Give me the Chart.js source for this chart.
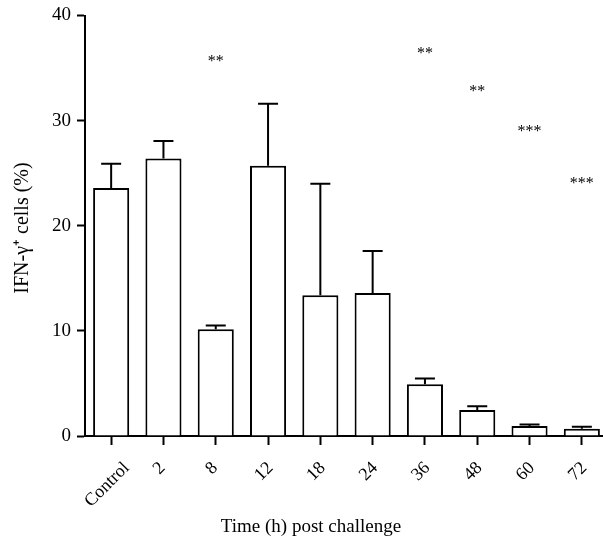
<!DOCTYPE html>
<html>
<head>
<meta charset="utf-8">
<script src="https://cdn.jsdelivr.net/npm/chart.js@4"></script>
<style>
  body { margin: 0; background: #fff; overflow: hidden; }
  #wrap { width: 612px; height: 550px; }
</style>
</head>
<body>
<div id="wrap"><canvas id="ifnChart"></canvas></div>
<script>
const labels = ["Control", "2", "8", "12", "18", "24", "36", "48", "60", "72"];
const means = [23.6, 26.4, 10.15, 25.7, 13.4, 13.6, 4.93, 2.47, 0.95, 0.7];
const upperErr = [25.9, 28.05, 10.5, 31.6, 24.0, 17.6, 5.47, 2.82, 1.1, 0.88];
// significance marks and the value level they sit at
const stars = ["", "", "**", "", "", "", "**", "**", "***", "***"];
const starLevel = [0, 0, 35.9, 0, 0, 0, 36.6, 33.0, 29.2, 24.3];

const serif = "'Liberation Serif', 'Times New Roman', serif";

const extras = {
  id: "extras",
  afterDatasetsDraw(chart) {
    const ctx = chart.ctx;
    const x = chart.scales.x;
    const y = chart.scales.y;
    const meta = chart.getDatasetMeta(0);
    ctx.save();
    ctx.strokeStyle = "#000";
    ctx.lineWidth = 2;
    // error bars (upper only)
    meta.data.forEach((bar, i) => {
      const top = y.getPixelForValue(upperErr[i]);
      ctx.beginPath();
      ctx.moveTo(bar.x, bar.y);
      ctx.lineTo(bar.x, top);
      ctx.moveTo(bar.x - 10, top);
      ctx.lineTo(bar.x + 10, top);
      ctx.stroke();
    });
    ctx.fillStyle = "#000";
    ctx.font = "16px " + serif;
    ctx.textAlign = "center";
    ctx.textBaseline = "middle";
    meta.data.forEach((bar, i) => {
      if (stars[i]) ctx.fillText(stars[i], bar.x, y.getPixelForValue(starLevel[i]) + 3);
    });

    // rotated category labels, box centred under each tick
    ctx.font = "18px " + serif;
    labels.forEach((lab, i) => {
      const w = ctx.measureText(lab).width;
      const cx = x.getPixelForTick(i) - 4;
      const cy = x.top + 25 + (w + 12) * 0.354;
      ctx.save();
      ctx.translate(cx, cy);
      ctx.rotate(-Math.PI / 4);
      ctx.fillText(lab, 0, 0);
      ctx.restore();
    });

    // axis titles
    ctx.font = "19px " + serif;
    ctx.fillText("Time (h) post challenge", 311, 527);
    ctx.font = "20px " + serif;
    ctx.translate(23, 228);
    ctx.rotate(-Math.PI / 2);
    ctx.fillText("IFN-γ⁺ cells (%)", 0, 0);
    ctx.restore();
  }
};

new Chart(document.getElementById("ifnChart").getContext("2d"), {
  type: "bar",
  data: {
    labels: labels,
    datasets: [{
      data: means,
      backgroundColor: "#fff",
      borderColor: "#000",
      borderWidth: 2,
      barPercentage: 0.69,
      categoryPercentage: 1
    }]
  },
  options: {
    responsive: true,
    maintainAspectRatio: false,
    animation: false,
    layout: { padding: { top: 14, right: 4, left: 0, bottom: 0 } },
    plugins: { legend: { display: false }, tooltip: { enabled: false } },
    scales: {
      x: {
        grid: { display: true, drawOnChartArea: false, offset: false, tickLength: 9, tickWidth: 2, tickColor: "#000" },
        border: { display: true, width: 2, color: "#000" },
        ticks: { display: false },
        afterFit(scale) { scale.height = 114; }
      },
      y: {
        min: 0,
        max: 40,
        ticks: { stepSize: 10, color: "#000", font: { family: serif, size: 19, lineHeight: 1 }, padding: 6 },
        grid: { display: true, drawOnChartArea: false, tickLength: 8, tickWidth: 2, tickColor: "#000" },
        border: { display: true, width: 2, color: "#000" },
        afterFit(scale) { scale.width = 85; }
      }
    }
  },
  plugins: [extras]
});
</script>
</body>
</html>
